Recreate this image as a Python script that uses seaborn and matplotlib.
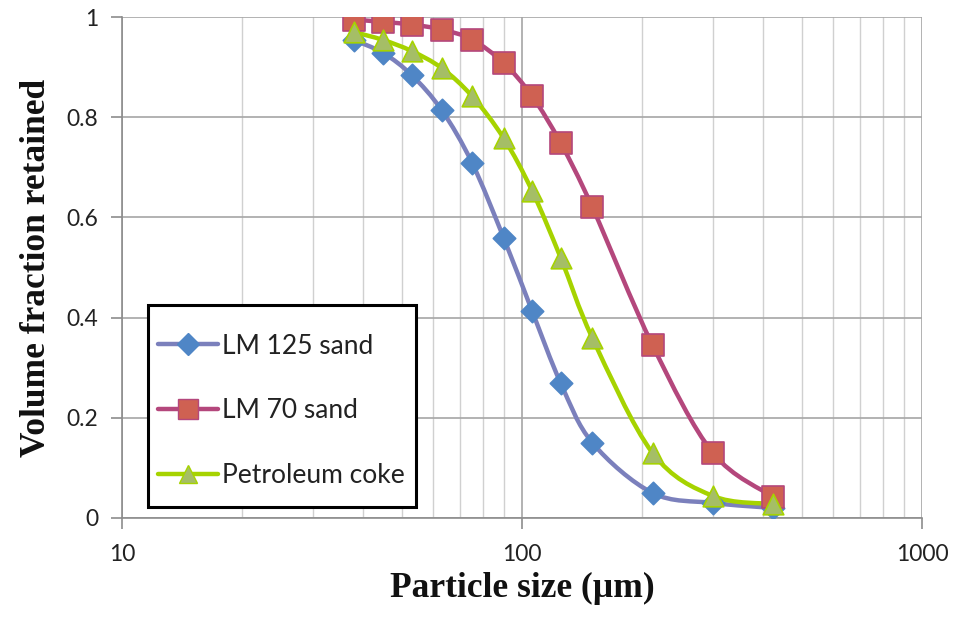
import numpy as np
import pandas as pd
import matplotlib
matplotlib.use("Agg")
import matplotlib.pyplot as plt
from matplotlib.path import Path
from matplotlib.patches import PathPatch, Rectangle
from matplotlib.lines import Line2D
from matplotlib.ticker import LogLocator, FixedLocator, NullFormatter
import seaborn as sns

# Sieve sizes (µm) and cumulative volume fraction retained
sizes = [38, 45, 53, 63, 75, 90, 106, 125, 150, 212, 300, 425]
lm125_sand = [0.954, 0.928, 0.884, 0.814, 0.709, 0.559, 0.413, 0.269, 0.150, 0.050, 0.030, 0.020]
lm70_sand = [0.995, 0.990, 0.985, 0.975, 0.955, 0.908, 0.842, 0.748, 0.620, 0.345, 0.130, 0.042]
petroleum_coke = [0.970, 0.954, 0.932, 0.898, 0.842, 0.758, 0.653, 0.519, 0.359, 0.130, 0.044, 0.028]

series_names = ["LM 125 sand", "LM 70 sand", "Petroleum coke"]
series_values = [lm125_sand, lm70_sand, petroleum_coke]

x_ticks = [10, 100, 1000]
x_tick_labels = ["10", "100", "1000"]
y_ticks = [0, 0.2, 0.4, 0.6, 0.8, 1.0]
y_tick_labels = ["0", "0.2", "0.4", "0.6", "0.8", "1"]

styles = {
    "LM 125 sand": dict(line="#7B80BC", face="#4F86C6", edge="#4F86C6", marker="D", size=130, legsize=11),
    "LM 70 sand": dict(line="#B4477C", face="#CF6152", edge="#B4477C", marker="s", size=240, legsize=14),
    "Petroleum coke": dict(line="#A6D300", face="#A5BE66", edge="#A6D300", marker="^", size=220, legsize=13),
}

df = pd.DataFrame({
    "size": np.tile(sizes, len(series_names)),
    "fraction": np.concatenate(series_values),
    "series": np.repeat(series_names, len(sizes)),
})

sns.set_theme(style="white")
plt.rcParams["font.family"] = ["Lato", "DejaVu Sans"]

fig = plt.figure(figsize=(9.58, 6.18), dpi=100)
ax = fig.add_axes([122 / 958, 100 / 618, 800 / 958, 501 / 618])
ax.set_xscale("log")
ax.set_xlim(10, 1000)
ax.set_ylim(0, 1)


def smooth_path(xs, ys):
    """Smooth curve through the points: cubic Bezier segments in log-x space."""
    u = np.log10(np.asarray(xs, float))
    v = np.asarray(ys, float)
    n = len(u)
    verts = [(xs[0], v[0])]
    codes = [Path.MOVETO]
    for i in range(n - 1):
        i0 = max(i - 1, 0)
        i3 = min(i + 2, n - 1)
        c1u = u[i] + (u[i + 1] - u[i0]) / 6
        c1v = v[i] + (v[i + 1] - v[i0]) / 6
        c2u = u[i + 1] - (u[i3] - u[i]) / 6
        c2v = v[i + 1] - (v[i3] - v[i]) / 6
        verts += [(10 ** c1u, c1v), (10 ** c2u, c2v), (10 ** u[i + 1], v[i + 1])]
        codes += [Path.CURVE4] * 3
    return Path(verts, codes)


for name in series_names:
    sub = df[df["series"] == name]
    st = styles[name]
    patch = PathPatch(smooth_path(list(sub["size"]), list(sub["fraction"])),
                      facecolor="none", edgecolor=st["line"], lw=3.2,
                      transform=ax.transData, zorder=3, capstyle="round")
    ax.add_patch(patch)

for name in series_names:
    sub = df[df["series"] == name]
    st = styles[name]
    sns.scatterplot(data=sub, x="size", y="fraction", ax=ax, marker=st["marker"],
                    s=st["size"], color=st["face"], edgecolor=st["edge"],
                    linewidth=1.2, zorder=4, legend=False)

# Grid: major and minor verticals, horizontals at each y tick
ax.xaxis.set_major_locator(FixedLocator(x_ticks))
ax.set_xticklabels(x_tick_labels)
ax.xaxis.set_minor_locator(LogLocator(base=10, subs=np.arange(2, 10)))
ax.xaxis.set_minor_formatter(NullFormatter())
ax.set_yticks(y_ticks)
ax.set_yticklabels(y_tick_labels)
ax.grid(which="major", axis="both", color="#A6A6A6", lw=1.2, zorder=0)
ax.grid(which="minor", axis="x", color="#D0D0D0", lw=1.0, zorder=0)
ax.set_axisbelow(True)

for side in ["top", "right"]:
    ax.spines[side].set_visible(False)
for side in ["left", "bottom"]:
    ax.spines[side].set_color("#8C8C8C")
    ax.spines[side].set_linewidth(1.2)

ax.tick_params(axis="both", which="major", direction="out", length=8, width=1.2,
               color="#8C8C8C", labelsize=16.5, labelcolor="#222222", pad=9,
               bottom=True, left=True)
ax.tick_params(axis="x", which="minor", length=0)
ax.tick_params(axis="x", pad=11)

ax.set_xlabel("Particle size (µm)", family=["Liberation Serif"], fontweight="bold",
              fontsize=25.5, color="#111111", labelpad=5)
ax.set_ylabel("Volume fraction retained", family=["Liberation Serif"], fontweight="bold",
              fontsize=25.5, color="#111111", labelpad=10)

# Legend box with its own frame
ax.add_patch(Rectangle((0.0325, 0.022), 0.335, 0.403, transform=ax.transAxes,
                       facecolor="white", edgecolor="black", lw=2.2, zorder=6))
handles = []
for name in series_names:
    st = styles[name]
    handles.append(Line2D([0], [0], color=st["line"], lw=3.2, marker=st["marker"],
                          markersize=st["legsize"],
                          markerfacecolor=st["face"], markeredgecolor=st["edge"]))
leg = ax.legend(handles, series_names, loc="center left",
                bbox_to_anchor=(0.045, 0.214), fontsize=19, frameon=False,
                handlelength=2.27, handletextpad=0.15, labelspacing=1.5,
                borderpad=0, borderaxespad=0)
leg.set_zorder(7)
for t in leg.get_texts():
    t.set_color("#222222")

fig.savefig("out.png", dpi=100)
